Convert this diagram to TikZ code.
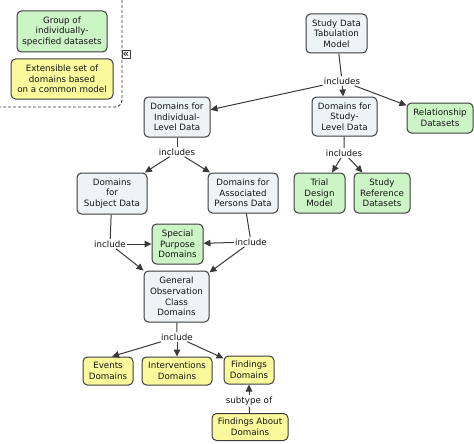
\documentclass[tikz,border=0pt]{standalone}
\usepackage{fontspec}
\setmainfont{DejaVu Sans}
\usetikzlibrary{arrows.meta,calc}
\definecolor{bluef}{HTML}{EEF3F6}
\definecolor{greenf}{HTML}{CCF5C6}
\definecolor{yellowf}{HTML}{FAFA9C}
\definecolor{edgec}{HTML}{3C3C3C}
\definecolor{linkc}{HTML}{3A3A3A}
\definecolor{txt}{HTML}{141414}
\tikzset{
  concept/.style={draw=edgec, line width=1pt, rounded corners=4.5pt, align=center,
    font=\fontsize{8.7}{10.6}\selectfont, text=txt, inner sep=0pt},
  bluebox/.style={concept, fill=bluef},
  greenbox/.style={concept, fill=greenf},
  yellowbox/.style={concept, fill=yellowf},
  phrase/.style={font=\fontsize{8.7}{10.6}\selectfont, text=txt, fill=white, inner sep=1.2pt},
  link/.style={draw=linkc, line width=1pt},
  arr/.style={link, -{Triangle[length=7pt,width=6.5pt]}},
}
\begin{document}
\begin{tikzpicture}[x=1pt,y=-1pt]
\useasboundingbox (0,0) rectangle (474,444);
\fill[white] (0,0) rectangle (474,444);

% legend
\draw[draw=linkc, line width=0.9pt, dash pattern=on 3pt off 2pt, rounded corners=7pt]
  (-10,-10) rectangle (122,107);
\node[greenbox, minimum width=90pt, minimum height=41pt] (lg) at (62,31.5)
  {Group of\\individually-\\specified datasets};
\node[yellowbox, minimum width=102pt, minimum height=40pt] (ly) at (62,79)
  {Extensible set of\\domains based\\on a common model};
\node[draw=edgec, line width=0.7pt, fill=white, minimum size=8pt, inner sep=0pt,
  font=\fontsize{11}{11}\selectfont] (icon) at (126,54.5) {«};

% concepts
\node[bluebox, minimum width=61pt, minimum height=39pt] (sdtm) at (336.5,33.5)
  {Study Data\\Tabulation\\Model};
\node[bluebox, minimum width=65pt, minimum height=39pt] (slev) at (344.5,116.5)
  {Domains for\\Study-\\Level Data};
\node[greenbox, minimum width=66pt, minimum height=30pt] (rel) at (440,118)
  {Relationship\\Datasets};
\node[bluebox, minimum width=66pt, minimum height=40pt] (ind) at (177,117)
  {Domains for\\Individual-\\Level Data};
\node[bluebox, minimum width=70pt, minimum height=41pt] (subj) at (112,193.5)
  {Domains\\for\\Subject Data};
\node[bluebox, minimum width=70pt, minimum height=40pt] (assoc) at (243,193)
  {Domains for\\Associated\\Persons Data};
\node[greenbox, minimum width=51pt, minimum height=40pt] (spec) at (177.5,244)
  {Special\\Purpose\\Domains};
\node[bluebox, minimum width=65pt, minimum height=51pt] (gen) at (176.5,296.5)
  {General\\Observation\\Class\\Domains};
\node[yellowbox, minimum width=50pt, minimum height=28pt] (ev) at (108,371)
  {Events\\Domains};
\node[yellowbox, minimum width=70pt, minimum height=28pt] (int) at (177,371)
  {Interventions\\Domains};
\node[yellowbox, minimum width=50pt, minimum height=28pt] (fin) at (249,370)
  {Findings\\Domains};
\node[yellowbox, minimum width=76pt, minimum height=27pt] (fab) at (250,427)
  {Findings About\\Domains};
\node[greenbox, minimum width=51pt, minimum height=40pt] (trial) at (319.5,193)
  {Trial\\Design\\Model};
\node[greenbox, minimum width=56pt, minimum height=40pt] (sref) at (382,193)
  {Study\\Reference\\Datasets};

% linking phrases
\node[phrase] (p1) at (342,81) {includes};
\node[phrase] (p2) at (177,152) {includes};
\node[phrase] (p3) at (344,153) {includes};
\node[phrase] (p4) at (110,244) {include};
\node[phrase] (p5) at (251,242) {include};
\node[phrase] (p6) at (177,337) {include};
\node[phrase] (p7) at (249,401) {subtype of};

% connectors
\draw[link] (sdtm) -- (p1);
\draw[arr] (p1) -- (ind);
\draw[arr] (p1) -- (slev);
\draw[arr] (p1) -- (rel);

\draw[link] (ind) -- (p2);
\draw[arr] (p2) -- (subj);
\draw[arr] (p2) -- (assoc);

\draw[link] (slev) -- (p3);
\draw[arr] (p3) -- (trial);
\draw[arr] (p3) -- (sref);

\draw[link] (subj) -- (p4);
\draw[arr] (p4) -- (spec);
\draw[arr] (p4) -- (gen);

\draw[link] (assoc) -- (p5);
\draw[arr] (p5) -- (spec);
\draw[arr] (p5) -- (gen);

\draw[link] (gen) -- (p6);
\draw[arr] (p6) -- ($(ev.north)+(4,0)$);
\draw[arr] (p6) -- (int);
\draw[arr] (p6) -- (fin);

\draw[link] (fab) -- (p7);
\draw[arr] (p7) -- (fin);
\end{tikzpicture}
\end{document}
